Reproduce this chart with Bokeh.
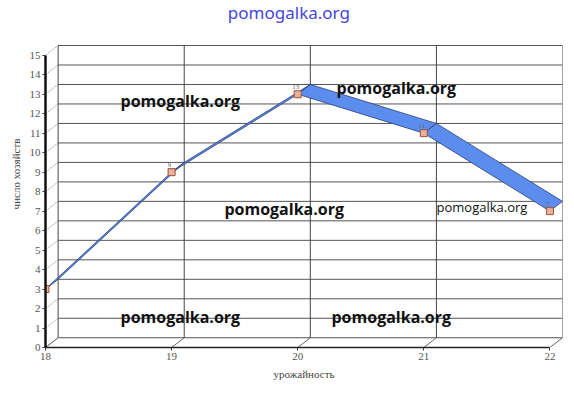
from bokeh.plotting import figure
from bokeh.models import Range1d, FixedTicker
from bokeh.embed import file_html
from bokeh.resources import INLINE
from bokeh.core.properties import value

# ---- data ----
categories = ["18", "19", "20", "21", "22"]
values = [3, 9, 13, 11, 7]
y_ticks = list(range(0, 16))
x_title = "урожайность"
y_title = "число хозяйств"
title_text = "pomogalka.org"
watermark = "pomogalka.org"

# ---- 3D-ish geometry helpers (depth offset in data units) ----
DX, DY = 0.1, 0.5
n = len(categories)
xs = list(range(n))
ymax = y_ticks[-1]
TOP = ymax + DY + 2.31   # headroom above the chart box for the title

p = figure(width=574, height=395, output_backend="svg", toolbar_location=None,
           x_range=Range1d(0, n - 1 + DX), y_range=Range1d(0, TOP),
           min_border_left=45, min_border_right=12, min_border_top=0,
           min_border_bottom=48)
p.outline_line_color = None
p.background_fill_color = "white"
p.border_fill_color = "white"
p.xgrid.visible = False
p.ygrid.visible = False

# axes
p.xaxis.ticker = FixedTicker(ticks=xs)
p.xaxis.major_label_overrides = {i: c for i, c in enumerate(categories)}
p.xaxis.bounds = (0, n - 1)
p.yaxis.ticker = FixedTicker(ticks=y_ticks)
p.yaxis.bounds = (0, ymax)
for ax in (p.xaxis[0], p.yaxis[0]):
    ax.minor_tick_line_color = None
    ax.major_tick_out = 3
    ax.major_tick_in = 0
    ax.major_tick_line_color = "#333333"
    ax.major_label_text_font = "Liberation Serif"
    ax.major_label_text_font_size = "11px"
    ax.major_label_text_color = "#555555"
    ax.axis_label_text_font = "Liberation Serif"
    ax.axis_label_text_font_size = "11px"
    ax.axis_label_text_font_style = "normal"
    ax.axis_label_text_color = "#444444"
    ax.major_label_standoff = 2
    ax.axis_label_standoff = 5
p.yaxis.axis_line_width = 2.5
p.yaxis.axis_line_color = "#111111"
p.xaxis.axis_line_width = 1.5
p.xaxis.axis_line_color = "#222222"
p.xaxis.axis_label = x_title
p.yaxis.axis_label = y_title

# back wall horizontal gridlines
p.segment(x0=[DX] * len(y_ticks), y0=[v + DY for v in y_ticks],
          x1=[n - 1 + DX] * len(y_ticks), y1=[v + DY for v in y_ticks],
          line_color="#555555", line_width=1)
# side wall diagonal lines
p.segment(x0=[0] * len(y_ticks), y0=y_ticks,
          x1=[DX] * len(y_ticks), y1=[v + DY for v in y_ticks],
          line_color="#aaaaaa", line_width=1, line_dash="2 1")
# back wall vertical lines (left edge, category lines, right edge)
p.segment(x0=[i + DX for i in xs], y0=[DY] * n,
          x1=[i + DX for i in xs], y1=[ymax + DY] * n,
          line_color="#444444", line_width=1)
# floor diagonal lines
p.segment(x0=xs, y0=[0] * n, x1=[i + DX for i in xs], y1=[DY] * n,
          line_color="#666666", line_width=1)

# ribbon (3D line)
rx, ry = [], []
for i in range(n - 1):
    rx.append([i, i + 1, i + 1 + DX, i + DX])
    ry.append([values[i], values[i + 1], values[i + 1] + DY, values[i] + DY])
p.patches(rx, ry, fill_color="#5b8def", line_color="#2c3f73", line_width=0.8)

# markers and data labels
p.scatter(xs, values, marker="square", size=7, fill_color="#e6b29a",
          line_color="#a0503a", line_width=1)
p.text(xs, values, text=[str(v) for v in values], x_offset=-2, y_offset=-5,
       text_font=value("Liberation Serif"), text_font_size="7px",
       text_color="#666666", text_align="center", text_baseline="bottom")

# watermarks (layout positions)
wm_x = [0.595, 2.308, 1.419, 0.595, 2.268]
wm_y = [12.63, 13.3, 7.09, 1.54, 1.54]
p.text(wm_x, wm_y, text=[watermark] * len(wm_x), text_font=value("Open Sans"),
       text_font_style="bold", text_font_size="16px", text_color="#111111",
       text_align="left", text_baseline="middle")
p.text([3.101], [7.19], text=[watermark], text_font=value("Open Sans"),
       text_font_size="13px", text_color="#111111",
       text_align="left", text_baseline="middle")

# title at the top of the page
p.text([1.93], [ymax + DY + 1.7], text=[title_text], text_font=value("Noto Sans"),
       text_font_size="17px", text_color="#4646d8",
       text_align="center", text_baseline="middle")

open("out.html", "w").write(file_html(p, INLINE))
